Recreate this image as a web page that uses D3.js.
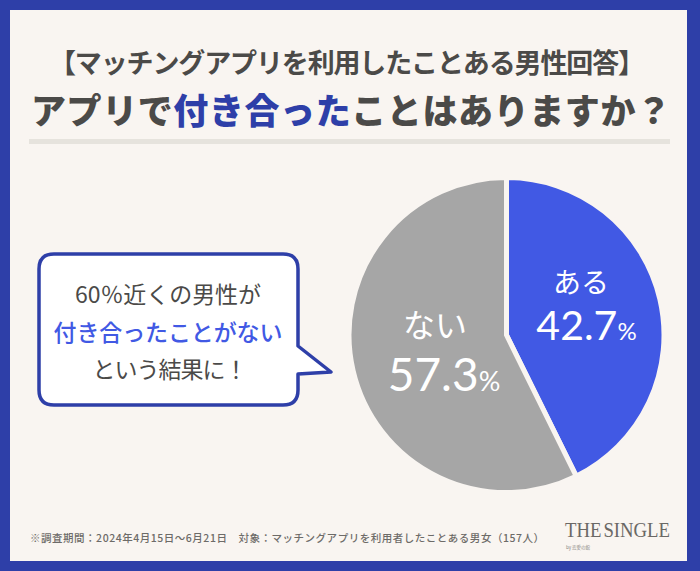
<!DOCTYPE html>
<html><head><meta charset="utf-8">
<script src="https://cdn.jsdelivr.net/npm/d3@7/dist/d3.min.js"></script>
<style>html,body{margin:0;padding:0;background:#2e3fa8}svg{display:block}text{font-family:"Noto Sans CJK JP","Noto Sans",sans-serif}</style>
</head><body><svg id="c" width="700" height="571"></svg>
<script>
const categories = ["ある", "ない"];
const values = [42.7, 57.3];
const labels = ["42.7", "57.3"];
const colors = ["#4159e4", "#a6a6a6"];
const bg = "#f9f5f1", navy = "#2e3fa8", ink = "#4b4a48";

const svg = d3.select("#c");
svg.append("rect").attr("width",700).attr("height",571).attr("fill",navy);
svg.append("rect").attr("x",10).attr("y",10).attr("width",677).attr("height",551).attr("fill",bg);

function t(x,y,size,weight,fill,anchor,len){
  const s = svg.append("text").attr("x",x).attr("y",y).attr("font-size",size)
    .attr("font-weight",weight).attr("fill",fill).attr("text-anchor",anchor||"middle");
  if(len) s.attr("textLength",len).attr("lengthAdjust","spacing");
  return s;
}
t(347,73,27,700,ink,"middle",596).text("【マッチングアプリを利用したことある男性回答】");
const h = t(351,124,35,900,ink,"middle",640);
h.append("tspan").text("アプリで");
h.append("tspan").attr("fill",navy).text("付き合った");
h.append("tspan").text("ことはありますか\uFF1F");
svg.append("rect").attr("x",29).attr("y",139).attr("width",641).attr("height",5).attr("fill","#e6e3dd");

// speech bubble
const p = d3.path();
const L=39,R=298,T=254,B=405,r=15;
p.moveTo(L+r,T); p.lineTo(R-r,T); p.quadraticCurveTo(R,T,R,T+r);
p.lineTo(R,346); p.lineTo(331,372); p.lineTo(R,374);
p.lineTo(R,B-r); p.quadraticCurveTo(R,B,R-r,B);
p.lineTo(L+r,B); p.quadraticCurveTo(L,B,L,B-r);
p.lineTo(L,T+r); p.quadraticCurveTo(L,T,L+r,T); p.closePath();
svg.append("path").attr("d",p.toString()).attr("fill","#fff").attr("stroke",navy)
  .attr("stroke-width",3.5).attr("stroke-linejoin","round");
t(168,303,23,400,ink,"middle",186).text("60\uFF05近くの男性が");
t(168,341,23,500,colors[0],"middle",229).text("付き合ったことがない");
t(170,378,23,400,ink,"middle",155).text("という結果に\uFF01");

// pie
const pie = d3.pie().sort(null).value(d=>d);
const arc = d3.arc().innerRadius(0).outerRadius(157.5);
const g = svg.append("g").attr("transform","translate(506.5,335)");
g.selectAll("path").data(pie(values)).join("path")
  .attr("d",arc).attr("fill",(d,i)=>colors[i]).attr("stroke",bg).attr("stroke-width",5).attr("stroke-linejoin","miter");

const labelPos = [[581,293,340],[435,337,391]];
const valueX = [586.5,444];
const sizes = [[28,41,24],[32,46,27]];
categories.forEach((c,i)=>{
  const [x,y1,y2]=labelPos[i], [a,b,e]=sizes[i];
  t(x,y1,a,400,"#fff").text(c);
  const v=t(valueX[i],y2,b,400,"#fff").style("font-family","Lato,sans-serif");
  v.append("tspan").text(labels[i]);
  v.append("tspan").attr("font-size",e).text("%");
});

// footer
t(30,542,10.5,500,"#6d6b68","start",514).text("※調査期間\uFF1A2024年4月15日\u301C6月21日\u3000対象\uFF1Aマッチングアプリを利用者したことある男女\uFF08157人\uFF09");
t(617.5,537,21,400,"#6a6865","middle",105).attr("lengthAdjust","spacingAndGlyphs").attr("word-spacing",-3).style("font-family","'Liberation Serif',serif").text("THE SINGLE");
t(566,549,4.5,400,"#8a8885","start").text("by 恋愛の館");
</script></body></html>
